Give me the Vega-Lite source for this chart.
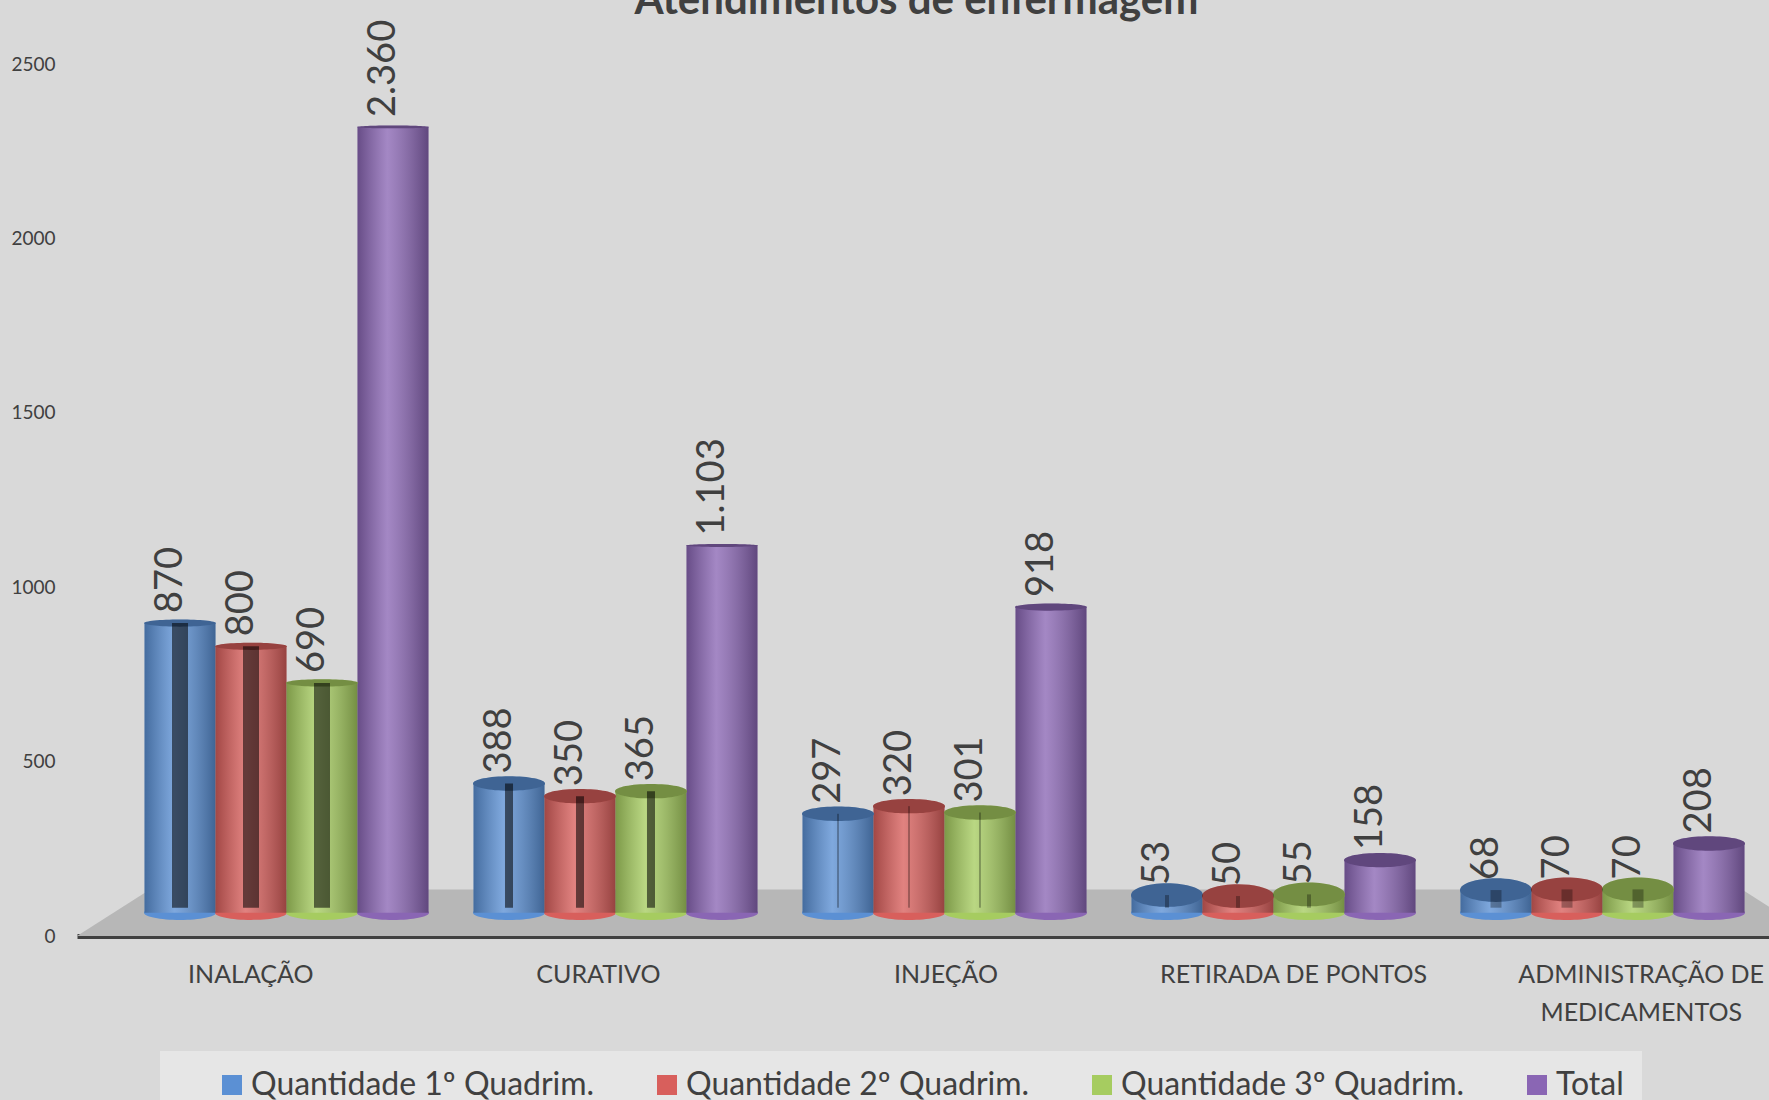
{"$schema":"https://vega.github.io/schema/vega-lite/v6.json","width":1738,"height":872,"autosize":{"type":"none"},"padding":{"left":77,"top":64,"right":0,"bottom":164},"background":"#d9d9d9","config":{"view":{"stroke":null},"font":"Lato"},"data":{"values":[{"categoria":"INALAÇÃO","serie":"Quantidade 1º Quadrim.","valor":870,"rotulo":"870"},{"categoria":"INALAÇÃO","serie":"Quantidade 2º Quadrim.","valor":800,"rotulo":"800"},{"categoria":"INALAÇÃO","serie":"Quantidade 3º Quadrim.","valor":690,"rotulo":"690"},{"categoria":"INALAÇÃO","serie":"Total","valor":2360,"rotulo":"2.360"},{"categoria":"CURATIVO","serie":"Quantidade 1º Quadrim.","valor":388,"rotulo":"388"},{"categoria":"CURATIVO","serie":"Quantidade 2º Quadrim.","valor":350,"rotulo":"350"},{"categoria":"CURATIVO","serie":"Quantidade 3º Quadrim.","valor":365,"rotulo":"365"},{"categoria":"CURATIVO","serie":"Total","valor":1103,"rotulo":"1.103"},{"categoria":"INJEÇÃO","serie":"Quantidade 1º Quadrim.","valor":297,"rotulo":"297"},{"categoria":"INJEÇÃO","serie":"Quantidade 2º Quadrim.","valor":320,"rotulo":"320"},{"categoria":"INJEÇÃO","serie":"Quantidade 3º Quadrim.","valor":301,"rotulo":"301"},{"categoria":"INJEÇÃO","serie":"Total","valor":918,"rotulo":"918"},{"categoria":"RETIRADA DE PONTOS","serie":"Quantidade 1º Quadrim.","valor":53,"rotulo":"53"},{"categoria":"RETIRADA DE PONTOS","serie":"Quantidade 2º Quadrim.","valor":50,"rotulo":"50"},{"categoria":"RETIRADA DE PONTOS","serie":"Quantidade 3º Quadrim.","valor":55,"rotulo":"55"},{"categoria":"RETIRADA DE PONTOS","serie":"Total","valor":158,"rotulo":"158"},{"categoria":"ADMINISTRAÇÃO DE MEDICAMENTOS","serie":"Quantidade 1º Quadrim.","valor":68,"rotulo":"68"},{"categoria":"ADMINISTRAÇÃO DE MEDICAMENTOS","serie":"Quantidade 2º Quadrim.","valor":70,"rotulo":"70"},{"categoria":"ADMINISTRAÇÃO DE MEDICAMENTOS","serie":"Quantidade 3º Quadrim.","valor":70,"rotulo":"70"},{"categoria":"ADMINISTRAÇÃO DE MEDICAMENTOS","serie":"Total","valor":208,"rotulo":"208"}]},"resolve":{"scale":{"x":"independent","y":"independent","xOffset":"independent"},"axis":{"x":"independent","y":"independent"}},"layer":[{"encoding":{"x":{"field":"p","type":"quantitative","scale":{"domain":[0,100],"nice":false},"axis":null},"y":{"field":"topo","type":"quantitative","scale":{"domain":[0,2500],"nice":false},"axis":null}},"layer":[{"data":{"values":[{"p":0,"topo":0,"base":0},{"p":4.2,"topo":133,"base":0},{"p":95.8,"topo":133,"base":0},{"p":100,"topo":0,"base":0}]},"mark":{"type":"area","color":"#b7b7b7","opacity":1},"encoding":{"y2":{"field":"base"}}},{"data":{"values":[{"p":48.3,"topo":2642,"titulo":"Atendimentos de enfermagem"}]},"mark":{"type":"text","fontSize":42,"fontWeight":"bold","color":"#404040","align":"center","baseline":"alphabetic"},"encoding":{"text":{"field":"titulo","type":"nominal"}}}]},{"mark":{"type":"bar","opacity":0},"encoding":{"x":{"field":"categoria","type":"nominal","sort":null,"title":null,"scale":{"paddingInner":0,"paddingOuter":0},"axis":{"orient":"bottom","labelAngle":0,"ticks":false,"domainColor":"#404040","domainWidth":5,"labelFontSize":25,"labelColor":"#404040","labelPadding":26,"labelLimit":0,"labelLineHeight":38,"labelExpr":"datum.label == 'ADMINISTRAÇÃO DE MEDICAMENTOS' ? ['ADMINISTRAÇÃO DE','MEDICAMENTOS'] : datum.label"}},"y":{"field":"valor","type":"quantitative","title":null,"scale":{"domain":[0,2500],"nice":false},"axis":{"orient":"left","values":[0,500,1000,1500,2000,2500],"format":"d","ticks":false,"domain":false,"grid":false,"labelFontSize":19,"labelColor":"#404040","labelPadding":22}}}},{"encoding":{"x":{"field":"categoria","type":"nominal","sort":null,"axis":null,"scale":{"range":[45,1690],"paddingInner":0,"paddingOuter":0}},"xOffset":{"field":"serie","type":"nominal","scale":{"paddingOuter":0.317,"paddingInner":0}},"y":{"field":"valor","type":"quantitative","axis":null,"scale":{"domain":[-70,2549],"nice":false}}},"layer":[{"mark":{"type":"text","angle":270,"align":"left","baseline":"middle","dx":10,"dy":-9,"fontSize":38,"color":"#404040"},"encoding":{"text":{"field":"rotulo","type":"nominal"}}},{"mark":{"type":"point","filled":true,"opacity":1,"size":5184,"shape":"M-1,0A1,0.2 0 1,1 1,0A1,0.2 0 1,1 -1,0Z"},"encoding":{"y":{"datum":0,"type":"quantitative"},"color":{"field":"serie","type":"nominal","title":null,"scale":{"domain":["Quantidade 1º Quadrim.","Quantidade 2º Quadrim.","Quantidade 3º Quadrim.","Total"],"range":["#5b90d4","#d85f5c","#a6cc60","#8a66b4"]},"legend":{"orient":"none","legendX":83,"legendY":987,"direction":"horizontal","columns":4,"fillColor":"#e6e6e6","padding":18,"symbolType":"square","symbolSize":400,"symbolOpacity":1,"symbolOffset":38,"labelFontSize":32,"labelColor":"#404040","labelLimit":0,"columnPadding":18,"labelOffset":3,"gridAlign":"each"}}}},{"mark":{"type":"bar"},"encoding":{"color":{"field":"serie","type":"nominal","title":null}}},{"mark":{"type":"bar","fill":{"x1":0,"y1":0,"x2":1,"y2":0,"gradient":"linear","stops":[{"offset":0,"color":"rgba(0,0,0,0.25)"},{"offset":0.42,"color":"rgba(255,255,255,0.22)"},{"offset":1,"color":"rgba(0,0,0,0.3)"}]}}},{"mark":{"type":"point","filled":true,"opacity":1,"size":5184},"encoding":{"color":{"field":"serie","type":"nominal","title":null},"shape":{"condition":[{"test":"datum.valor < 100","value":"M-1,0A1,0.33 0 1,1 1,0A1,0.33 0 1,1 -1,0Z"},{"test":"datum.valor < 400","value":"M-1,0A1,0.2 0 1,1 1,0A1,0.2 0 1,1 -1,0Z"},{"test":"datum.valor < 1000","value":"M-1,0A1,0.1 0 1,1 1,0A1,0.1 0 1,1 -1,0Z"}],"value":"M-1,0A1,0.04 0 1,1 1,0A1,0.04 0 1,1 -1,0Z"}}},{"mark":{"type":"point","filled":true,"opacity":0.3,"size":5184,"color":"#000000"},"encoding":{"shape":{"condition":[{"test":"datum.valor < 100","value":"M-1,0A1,0.33 0 1,1 1,0A1,0.33 0 1,1 -1,0Z"},{"test":"datum.valor < 400","value":"M-1,0A1,0.2 0 1,1 1,0A1,0.2 0 1,1 -1,0Z"},{"test":"datum.valor < 1000","value":"M-1,0A1,0.1 0 1,1 1,0A1,0.1 0 1,1 -1,0Z"}],"value":"M-1,0A1,0.04 0 1,1 1,0A1,0.04 0 1,1 -1,0Z"}}},{"transform":[{"filter":"datum.serie != 'Total'"}],"mark":{"type":"rule","color":"#000000","xOffset":6},"encoding":{"y2":{"datum":15},"opacity":{"condition":{"test":"datum.valor < 100","value":0.3},"value":0.55},"strokeWidth":{"condition":[{"test":"datum.categoria == 'INALAÇÃO'","value":16},{"test":"datum.categoria == 'CURATIVO'","value":8},{"test":"datum.categoria == 'RETIRADA DE PONTOS'","value":4},{"test":"datum.categoria == 'ADMINISTRAÇÃO DE MEDICAMENTOS'","value":11}],"value":1}}}]}]}
